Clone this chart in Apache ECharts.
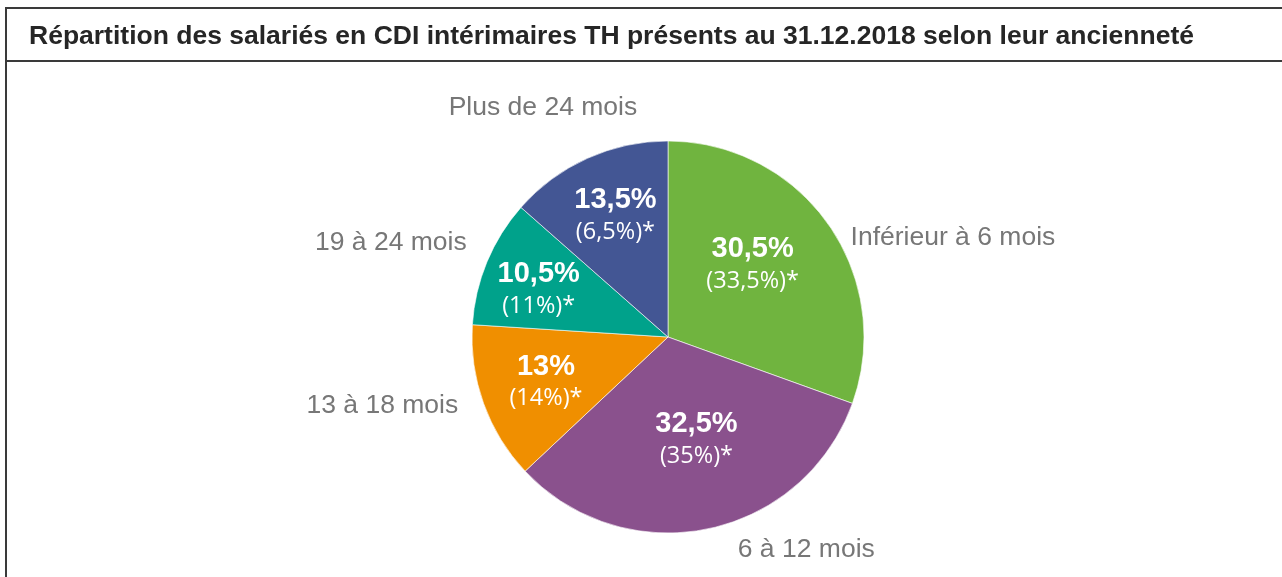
<!DOCTYPE html>
<html><head><meta charset="utf-8">
<script src="https://cdn.jsdelivr.net/npm/echarts@6/dist/echarts.min.js"></script>
<style>html,body{margin:0;padding:0;background:#fff}#c{width:1282px;height:577px}</style>
</head><body><div id="c"></div>
<script>
const titleText = 'Répartition des salariés en CDI intérimaires TH présents au 31.12.2018 selon leur ancienneté';
const categories = ['Inférieur à 6 mois', '6 à 12 mois', '13 à 18 mois', '19 à 24 mois', 'Plus de 24 mois'];
const shares = [30.5, 32.5, 13, 10.5, 13.5];
const priorShares = [33.5, 35, 14, 11, 6.5];

const sliceColors = ['#70b43f', '#8a518d', '#f08f00', '#00a28b', '#435694'];
// label nudges (styling only)
const outerNudge = [[14, 19], [28, 11], [-16, -1], [-11, -15], [54, -42]];
const innerNudge = [[2, -14], [8, 4], [-27, 11], [-36, -9], [-11, -29]];

const SANS = '"Liberation Sans"';
const OPEN = '"Open Sans"';

function fr(v) { return String(v).replace('.', ','); }

const chart = echarts.init(document.getElementById('c'), null, { renderer: 'canvas' });
const center = [668, 337];
const radius = 196;

const outerData = categories.map((c, i) => ({
  name: c, value: shares[i],
  itemStyle: { color: sliceColors[i] },
  label: { offset: outerNudge[i] }
}));
const innerData = categories.map((c, i) => ({
  name: c, value: shares[i],
  label: { offset: innerNudge[i] }
}));

chart.setOption({
  animation: false,
  title: {
    text: titleText, left: 24, top: 18,
    textStyle: { fontFamily: SANS, fontSize: 26.5, fontWeight: 'bold', color: '#262626', lineHeight: 28 }
  },
  graphic: [
    { type: 'line', shape: { x1: 5, y1: 8, x2: 1282, y2: 8 }, style: { stroke: '#3a3a3a', lineWidth: 2 } },
    { type: 'line', shape: { x1: 6, y1: 7, x2: 6, y2: 577 }, style: { stroke: '#3a3a3a', lineWidth: 2 } },
    { type: 'line', shape: { x1: 5, y1: 61, x2: 1282, y2: 61 }, style: { stroke: '#3a3a3a', lineWidth: 2 } }
  ],
  series: [
    {
      type: 'pie', center: center, radius: radius, startAngle: 90, clockwise: true,
      avoidLabelOverlap: false, silent: true,
      itemStyle: { borderColor: '#ffffff', borderWidth: 0.6 },
      label: {
        show: true, position: 'outside', formatter: '{b}',
        fontFamily: SANS, fontSize: 26.5, color: '#777777',
        distanceToLabelLine: 0
      },
      labelLine: { show: false, length: 10, length2: 0 },
      data: outerData
    },
    {
      type: 'pie', center: center, radius: radius, startAngle: 90, clockwise: true,
      avoidLabelOverlap: false, silent: true,
      itemStyle: { color: 'rgba(0,0,0,0)', borderWidth: 0 },
      label: {
        show: true, position: 'inside',
        formatter: (p) => '{a|' + fr(shares[p.dataIndex]) + '%}\n{b|(' + fr(priorShares[p.dataIndex]) + '%)*}',
        rich: {
          a: { fontFamily: SANS, fontSize: 29, fontWeight: 'bold', color: '#ffffff', lineHeight: 33, align: 'center' },
          b: { fontFamily: OPEN, fontSize: 23.5, color: '#ffffff', lineHeight: 31, align: 'center' }
        }
      },
      labelLine: { show: false },
      data: innerData
    }
  ]
});
</script></body></html>
